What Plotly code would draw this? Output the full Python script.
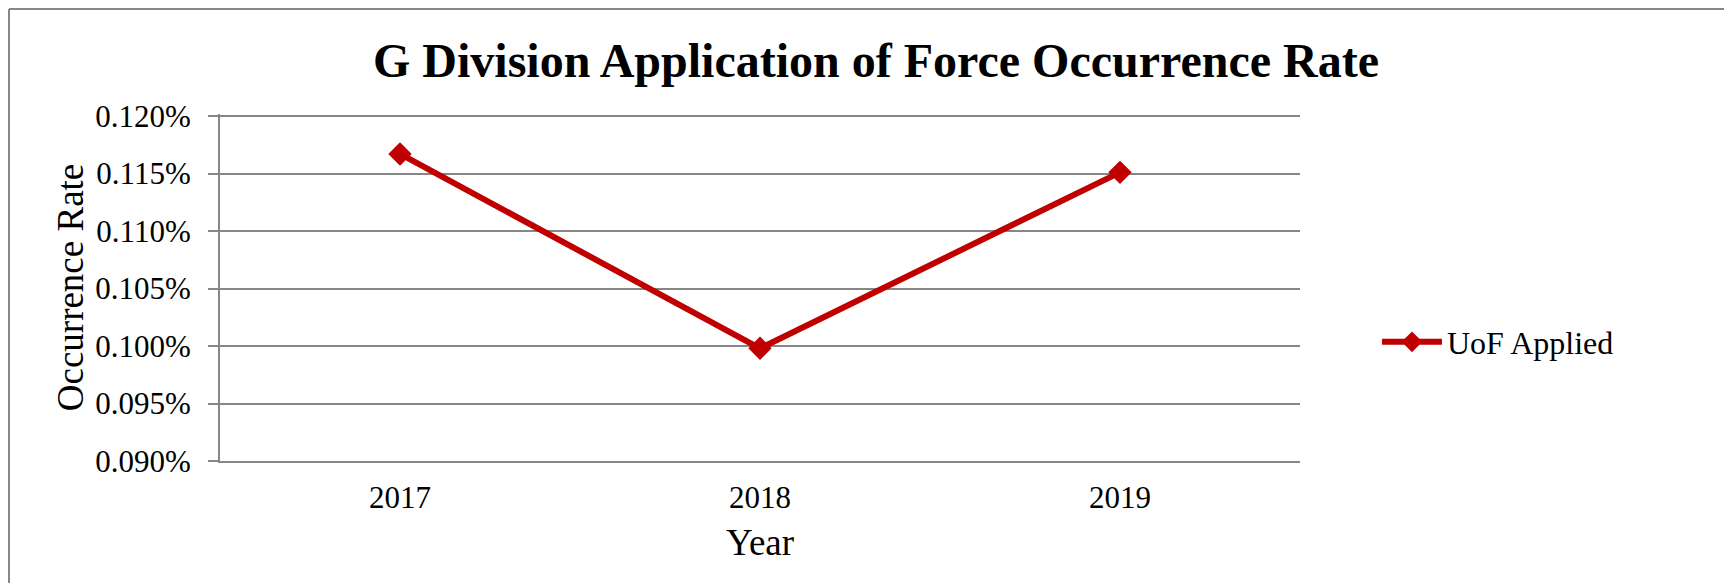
import plotly.graph_objects as go

years = ["2017", "2018", "2019"]
uof_applied = [0.001167, 0.000998, 0.001151]
series_name = "UoF Applied"
title_text = "G Division Application of Force Occurrence Rate"
y_title = "Occurrence Rate"
x_title = "Year"

W, H = 1724, 583
L, R, B = 220, 1300, 461          # plot area in pixels
T_GRID = 116                        # pixel row of the 0.120% line
EXTRA = 2                           # extra px above top gridline so it is drawn
T = T_GRID - EXTRA
y_lo, y_hi = 0.0009, 0.0012
y_hi_ext = y_hi + (y_hi - y_lo) * EXTRA / (B - T_GRID)

def px_x(p):
    return (p - L) / (R - L)

def px_y(p):
    return (B - p) / (B - T)

grey = "#868686"
font_family = "Liberation Serif, Times New Roman, serif"

fig = go.Figure()
fig.add_trace(go.Scatter(
    x=years, y=uof_applied, name=series_name, mode="lines+markers",
    line=dict(color="#C00000", width=6),
    marker=dict(symbol="diamond", size=18, color="#C00000"),
))

fig.update_layout(
    width=W, height=H,
    margin=dict(l=L, r=W - R, t=T, b=H - B, pad=0),
    paper_bgcolor="white", plot_bgcolor="white",
    font=dict(family=font_family, size=31, color="black"),
    title=dict(text="<b>" + title_text + "</b>", x=876 / W, xanchor="center",
               y=1 - 60 / H, yanchor="middle", yref="container",
               font=dict(size=48, color="black", family=font_family)),
    showlegend=True,
    legend=dict(x=px_x(1377), xanchor="left", y=px_y(342), yanchor="middle",
                font=dict(size=32), bgcolor="rgba(0,0,0,0)",
                itemwidth=60),
    xaxis=dict(type="category", range=[-0.5, 2.5], showgrid=False,
               showline=True, linecolor=grey, linewidth=2, ticks="",
               ticklabelstandoff=8, automargin=False,
               title=dict(text=x_title, standoff=15)),
    yaxis=dict(range=[y_lo, y_hi_ext], dtick=0.00005, tickformat=".3%",
               showgrid=True, gridcolor=grey, gridwidth=2,
               showline=True, linecolor=grey, linewidth=2,
               ticks="outside", ticklen=10, tickcolor=grey, tickwidth=2,
               ticklabelstandoff=11, zeroline=False, automargin=False,
               title=dict(text=y_title, standoff=0)),
    shapes=[
        dict(type="line", xref="paper", yref="paper",
             x0=px_x(9), x1=px_x(W), y0=px_y(9), y1=px_y(9),
             line=dict(color=grey, width=2)),
        dict(type="line", xref="paper", yref="paper",
             x0=px_x(9), x1=px_x(9), y0=px_y(9), y1=px_y(H),
             line=dict(color=grey, width=2)),
    ],
)

fig.write_html("out.html", config={"displayModeBar": False},
               post_script="document.body.style.margin='0';document.body.style.overflow='hidden';")
